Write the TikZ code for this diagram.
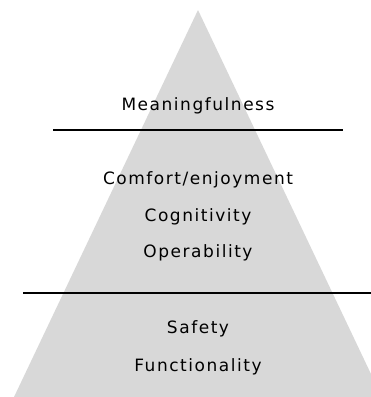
\documentclass[tikz,border=0pt]{standalone}
\usepackage{fontspec}
\newfontfamily\labelfont[LetterSpace=9]{DejaVu Sans}
\definecolor{pyrgray}{RGB}{216,216,216}
\begin{document}
\begin{tikzpicture}[x=1pt,y=-1pt,
  lbl/.style={inner sep=0pt,anchor=base,font=\labelfont\fontsize{17}{19}\selectfont,text=black},
  sep/.style={line width=2.2pt,draw=black}]
\useasboundingbox (0,0) rectangle (371,397);
\fill[pyrgray] (198,10) -- (371,374) -- (371,397) -- (14,397) -- cycle;
\draw[sep] (53,130) -- (343,130);
\draw[sep] (23,293) -- (371,293);
\node[lbl] (m) at (198,110) {Meaningfulness};
\node[lbl] (c) at (198,184) {Comfort/enjoyment};
\node[lbl] (g) at (198,221) {Cognitivity};
\node[lbl] (o) at (198,257) {Operability};
\node[lbl] (s) at (198,333) {Safety};
\node[lbl] (f) at (198,371) {Functionality};
\end{tikzpicture}
\end{document}
